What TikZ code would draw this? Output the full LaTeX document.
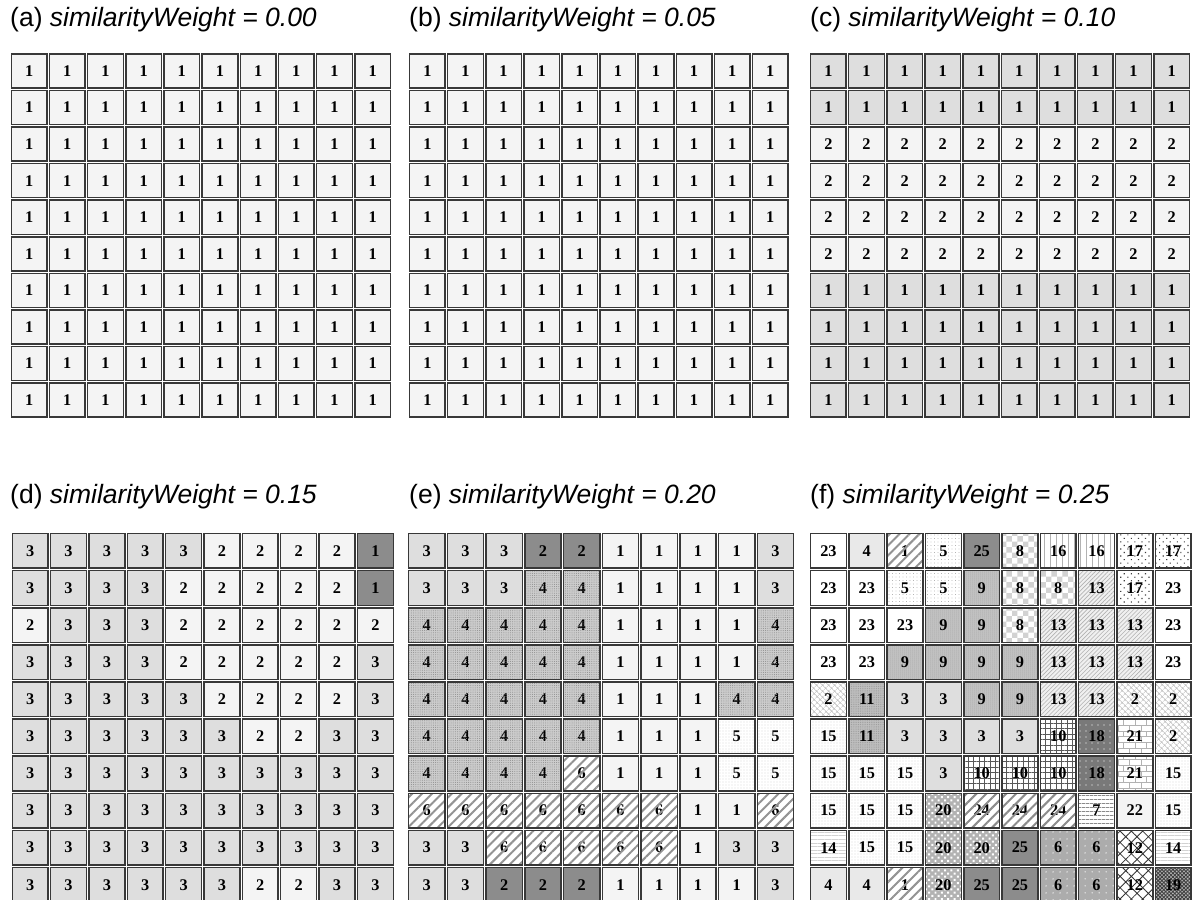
\documentclass[tikz,border=0pt]{standalone}
\usepackage{fontspec}
\usetikzlibrary{patterns,patterns.meta}
\newfontfamily\ttlfont{Liberation Sans}
\newfontfamily\labfont{Liberation Serif}
\definecolor{cLight}{gray}{0.955}
\definecolor{cMid}{gray}{0.87}
\definecolor{cDark}{gray}{0.55}
\definecolor{cBorder}{gray}{0.22}
\tikzset{
  ttl/.style={anchor=base west, inner sep=0pt, font=\ttlfont\fontsize{26.5}{30}\selectfont},
  cell/.style={rectangle, inner sep=0pt, outer sep=0pt, font=\labfont\bfseries\fontsize{16.3}{17}\selectfont},
  cellborder/.style={draw=cBorder, line width=1.5pt},
  under/.style 2 args={preaction={fill=#1}, pattern=#2},
  % (a) (b)
  a-1/.style={fill=cLight}, b-1/.style={fill=cLight},
  % (c)
  c-1/.style={fill=cMid}, c-2/.style={fill=cLight},
  % (d)
  d-1/.style={fill=cDark}, d-2/.style={fill=cLight}, d-3/.style={fill=cMid},
  % (e)
  e-1/.style={fill=cLight}, e-2/.style={fill=cDark}, e-3/.style={fill=cMid},
  e-4/.style={fill=gray!40}, oe-4/.style={pattern={Dots[radius=0.5pt,distance=2.2pt]}, pattern color=black!45},
  e-5/.style={fill=white}, oe-5/.style={pattern={Dots[radius=0.45pt,distance=3pt]}, pattern color=black!40},
  e-6/.style={fill=white}, oe-6/.style={pattern={Lines[angle=45,distance=7pt,line width=2pt]}, pattern color=gray!85},
  % (f)
  f-23/.style={fill=white},
  f-4/.style={under={gray!12}{{Dots[radius=0.45pt,distance=2pt]}}, pattern color=black!35},
  f-1/.style={fill=white}, of-1/.style={pattern={Lines[angle=45,distance=7pt,line width=2pt]}, pattern color=gray!85},
  f-5/.style={under={white}{{Dots[radius=0.45pt,distance=3.5pt]}}, pattern color=black!45},
  f-25/.style={fill=cDark},
  f-8/.style={under={white}{checkerboard}, pattern color=gray!35},
  f-16/.style={under={white}{{Lines[angle=90,distance=6pt,line width=0.5pt]}}, pattern color=gray!60},
  f-17/.style={under={white}{{Dots[radius=0.8pt,distance=5pt,angle=45]}}, pattern color=black!75},
  f-9/.style={under={gray!45}{{Dots[radius=0.5pt,distance=2pt]}}, pattern color=black!45},
  f-13/.style={under={gray!12}{{Lines[angle=45,distance=3pt,line width=0.6pt]}}, pattern color=gray!60},
  f-3/.style={fill=cMid},
  f-2/.style={under={white}{{Hatch[angle=45,distance=4pt,line width=0.6pt]}}, pattern color=gray!50},
  f-11/.style={under={gray!50}{{Dots[radius=0.5pt,distance=1.8pt]}}, pattern color=black!40},
  f-15/.style={under={white}{{Dots[radius=0.45pt,distance=3pt]}}, pattern color=black!40},
  f-10/.style={under={white}{{Hatch[angle=0,distance=5.5pt,line width=0.7pt]}}, pattern color=black!65},
  f-18/.style={under={gray!95!black}{{Dots[radius=0.7pt,distance=6pt]}}, pattern color=white},
  f-21/.style={under={white}{bricks}, pattern color=gray!60},
  f-20/.style={under={gray!60}{{Dots[radius=1.4pt,distance=4.5pt,angle=45]}}, pattern color=white},
  f-24/.style={fill=white}, of-24/.style={pattern={Lines[angle=45,distance=7pt,line width=2pt]}, pattern color=gray!90},
  f-7/.style={under={white}{{Lines[angle=0,distance=4pt,line width=0.7pt]}}, pattern color=black!70},
  f-22/.style={fill=cLight},
  f-14/.style={under={white}{{Lines[angle=0,distance=3.5pt,line width=1pt]}}, pattern color=gray!35},
  f-6/.style={under={gray!65}{{Dots[radius=0.7pt,distance=6.5pt]}}, pattern color=white},
  f-12/.style={under={white}{{Hatch[angle=45,distance=8pt,line width=0.8pt]}}, pattern color=black!80},
  f-19/.style={under={gray!55}{{Hatch[angle=45,distance=2.6pt,line width=0.9pt]}}, pattern color=black!75},
}
% #1 id, #2 x0, #3 y0, #4 cell width, #5 cell height, #6 rows
\newcommand\gridpanel[6]{%
  \pgfmathsetmacro\gpw{#4-2.5}%
  \pgfmathsetmacro\gph{#5-2.5}%
  \foreach \row [count=\r] in {#6} {%
    \foreach \v [count=\c] in \row {%
      \pgfmathsetmacro\gpx{#2+(\c-0.5)*#4}%
      \pgfmathsetmacro\gpy{#3+(\r-0.5)*#5}%
      \edef\tmp{\noexpand\node[cell,#1-\v/.try,minimum width=\gpw pt,minimum height=\gph pt] (#1-\r-\c) at (\gpx,\gpy) {\v};}\tmp
      \edef\tmp{\noexpand\path[o#1-\v/.try] (#1-\r-\c.north west) rectangle (#1-\r-\c.south east);}\tmp
      \edef\tmp{\noexpand\draw[cellborder] (#1-\r-\c.north west) rectangle (#1-\r-\c.south east);}\tmp
    }%
  }%
}
\begin{document}
\begin{tikzpicture}[x=1pt,y=-1pt]
\useasboundingbox (0,0) rectangle (1193,899);
\clip (0,0) rectangle (1193,899);
\fill[white] (0,0) rectangle (1193,899);

\node[ttl] (ta) at (10,26.5) {(a) \textit{similarityWeight = 0.00}};
\node[ttl] (tb) at (409,26.5) {(b) \textit{similarityWeight = 0.05}};
\node[ttl] (tc) at (810,26.5) {(c) \textit{similarityWeight = 0.10}};
\node[ttl] (td) at (10,503) {(d) \textit{similarityWeight = 0.15}};
\node[ttl] (te) at (409,503) {(e) \textit{similarityWeight = 0.20}};
\node[ttl] (tf) at (810,503) {(f) \textit{similarityWeight = 0.25}};

\gridpanel{a}{10}{52.7}{38.17}{36.56}{%
{1,1,1,1,1,1,1,1,1,1},{1,1,1,1,1,1,1,1,1,1},{1,1,1,1,1,1,1,1,1,1},{1,1,1,1,1,1,1,1,1,1},{1,1,1,1,1,1,1,1,1,1},%
{1,1,1,1,1,1,1,1,1,1},{1,1,1,1,1,1,1,1,1,1},{1,1,1,1,1,1,1,1,1,1},{1,1,1,1,1,1,1,1,1,1},{1,1,1,1,1,1,1,1,1,1}}

\gridpanel{b}{408.3}{52.7}{38.1}{36.56}{%
{1,1,1,1,1,1,1,1,1,1},{1,1,1,1,1,1,1,1,1,1},{1,1,1,1,1,1,1,1,1,1},{1,1,1,1,1,1,1,1,1,1},{1,1,1,1,1,1,1,1,1,1},%
{1,1,1,1,1,1,1,1,1,1},{1,1,1,1,1,1,1,1,1,1},{1,1,1,1,1,1,1,1,1,1},{1,1,1,1,1,1,1,1,1,1},{1,1,1,1,1,1,1,1,1,1}}

\gridpanel{c}{809.3}{52.7}{38.14}{36.56}{%
{1,1,1,1,1,1,1,1,1,1},{1,1,1,1,1,1,1,1,1,1},{2,2,2,2,2,2,2,2,2,2},{2,2,2,2,2,2,2,2,2,2},{2,2,2,2,2,2,2,2,2,2},%
{2,2,2,2,2,2,2,2,2,2},{1,1,1,1,1,1,1,1,1,1},{1,1,1,1,1,1,1,1,1,1},{1,1,1,1,1,1,1,1,1,1},{1,1,1,1,1,1,1,1,1,1}}

\gridpanel{d}{11}{532.3}{38.35}{37.1}{%
{3,3,3,3,3,2,2,2,2,1},{3,3,3,3,2,2,2,2,2,1},{2,3,3,3,2,2,2,2,2,2},{3,3,3,3,2,2,2,2,2,3},{3,3,3,3,3,2,2,2,2,3},%
{3,3,3,3,3,3,2,2,3,3},{3,3,3,3,3,3,3,3,3,3},{3,3,3,3,3,3,3,3,3,3},{3,3,3,3,3,3,3,3,3,3},{3,3,3,3,3,3,2,2,3,3}}

\gridpanel{e}{407.3}{532.3}{38.75}{37.1}{%
{3,3,3,2,2,1,1,1,1,3},{3,3,3,4,4,1,1,1,1,3},{4,4,4,4,4,1,1,1,1,4},{4,4,4,4,4,1,1,1,1,4},{4,4,4,4,4,1,1,1,4,4},%
{4,4,4,4,4,1,1,1,5,5},{4,4,4,4,6,1,1,1,5,5},{6,6,6,6,6,6,6,1,1,6},{3,3,6,6,6,6,6,1,3,3},{3,3,2,2,2,1,1,1,1,3}}

\gridpanel{f}{809.3}{532.3}{38.3}{37.1}{%
{23,4,1,5,25,8,16,16,17,17},{23,23,5,5,9,8,8,13,17,23},{23,23,23,9,9,8,13,13,13,23},{23,23,9,9,9,9,13,13,13,23},{2,11,3,3,9,9,13,13,2,2},%
{15,11,3,3,3,3,10,18,21,2},{15,15,15,3,10,10,10,18,21,15},{15,15,15,20,24,24,24,7,22,15},{14,15,15,20,20,25,6,6,12,14},{4,4,1,20,25,25,6,6,12,19}}
\end{tikzpicture}
\end{document}
